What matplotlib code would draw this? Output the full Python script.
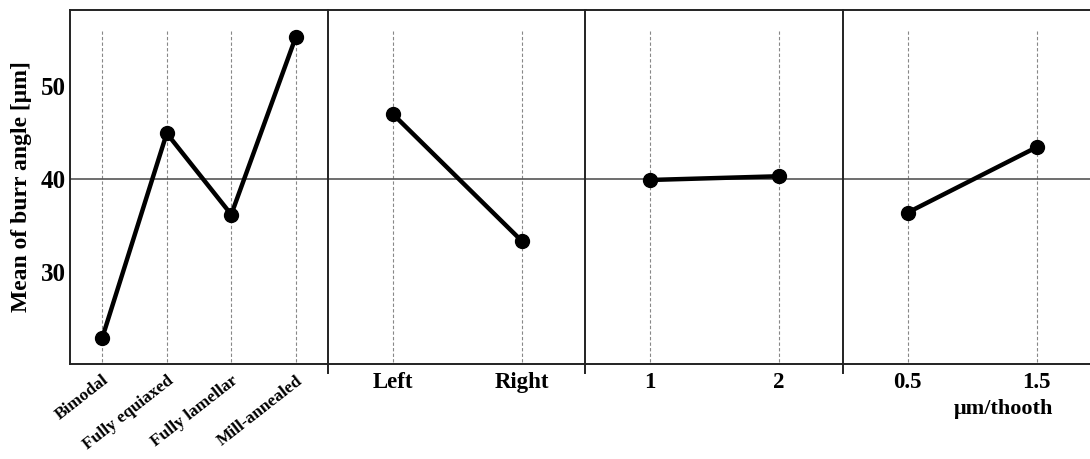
import numpy as np
import matplotlib.pyplot as plt

# main effects of burr angle, one panel per factor
microstructure = ["Bimodal", "Fully equiaxed", "Fully lamellar", "Mill-annealed"]
microstructure_mean = [23.0, 44.9, 36.2, 55.2]

direction = ["Left", "Right"]
direction_mean = [47.0, 33.4]

passes = ["1", "2"]
passes_mean = [39.9, 40.3]

feed = ["0.5", "1.5"]
feed_mean = [36.4, 43.4]

grand_mean = 40.0
yticks = [30, 40, 50]

plt.rcParams['font.family'] = ['Liberation Serif', 'DejaVu Serif']
plt.rcParams['font.weight'] = 'bold'

fig = plt.figure(figsize=(10.9, 4.59), dpi=100)

panels = [(microstructure, microstructure_mean),
          (direction, direction_mean),
          (passes, passes_mean),
          (feed, feed_mean)]

W, H = 1090.0, 459.0
lefts = [70, 328, 585, 843]
pw = 258
bottom_px, top_px = 364, 10

axes = []
for i, (cats, vals) in enumerate(panels):
    ax = fig.add_axes([lefts[i] / W, (H - bottom_px) / H, pw / W, (bottom_px - top_px) / H])
    axes.append(ax)
    x = np.arange(len(cats))
    ax.set_xlim(-0.5, len(cats) - 0.5)
    ax.set_ylim(20.2, 58.1)
    for xi in x:
        ax.axvline(xi, ymin=0.005, ymax=0.94, color='#888888', lw=0.8, ls=(0, (3, 2)), zorder=1)
    ax.axhline(grand_mean, color='#555555', lw=1.2, zorder=1)
    ax.plot(x, vals, color='black', lw=3.2, marker='o', ms=10, zorder=3)
    for s in ax.spines.values():
        s.set_color('#222222')
        s.set_linewidth(1.4)
    ax.spines['right'].set_visible(False)
    ax.set_xticks(x)
    ax.tick_params(axis='x', length=0, pad=6)
    if i == 0:
        ax.set_xticklabels(cats, rotation=38, ha='right', va='top',
                           rotation_mode='anchor', fontsize=12.5, fontweight='bold')
        ax.set_yticks(yticks)
        ax.set_yticklabels([str(t) for t in yticks], fontsize=18, fontweight='bold')
        ax.tick_params(axis='y', length=0, pad=3)
        ax.set_ylabel("Mean of burr angle [μm]", fontsize=17, fontweight='bold', labelpad=6)
    else:
        ax.set_xticklabels(cats, fontsize=16.5, fontweight='bold')
        ax.set_yticks([])
        ax.plot([0, 0], [0, -0.025], transform=ax.transAxes, color='#222222',
                lw=1.4, clip_on=False)

axes[3].text(0.74, -0.10, "μm/thooth", transform=axes[3].get_xaxis_transform(),
             ha='center', va='top', fontsize=16, fontweight='bold')

fig.savefig("out.png", dpi=100)
